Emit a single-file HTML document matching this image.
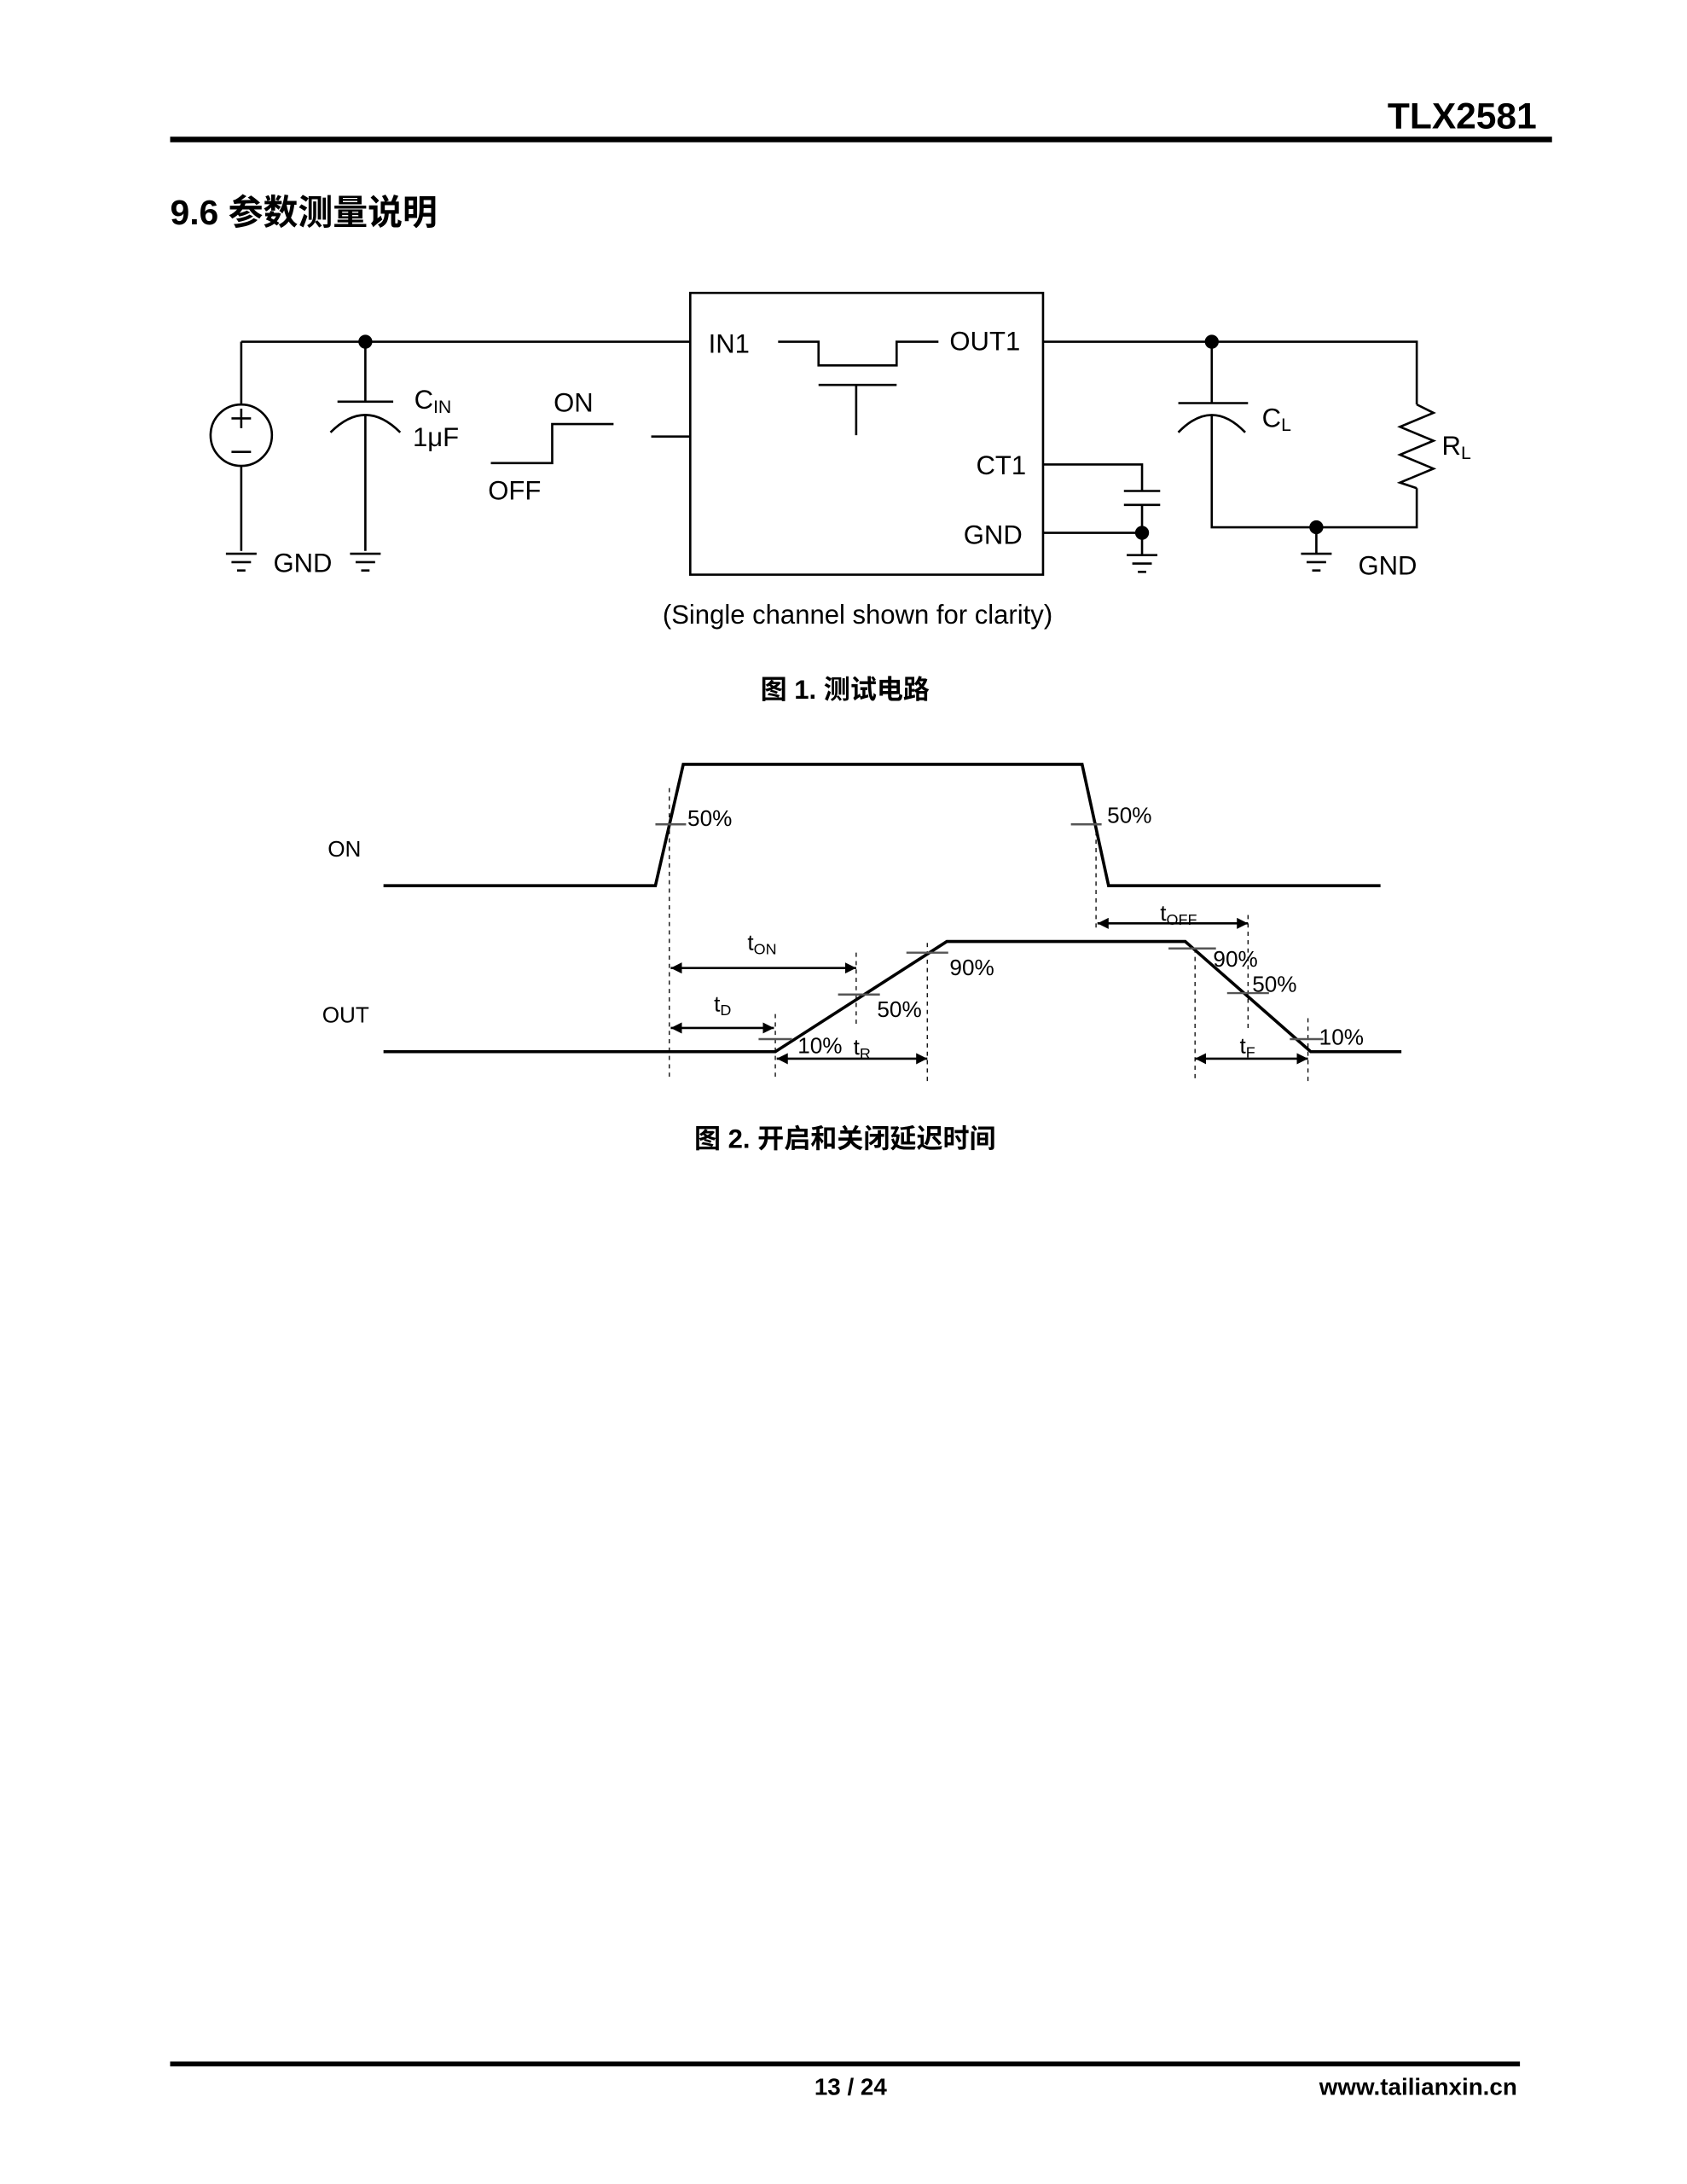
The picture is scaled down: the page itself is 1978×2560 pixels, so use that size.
<!DOCTYPE html>
<html><head><meta charset="utf-8"><style>
html,body{margin:0;padding:0;background:#fff;}
svg{display:block;}
text{font-family:"Liberation Sans","Noto Sans CJK SC",sans-serif;fill:#000;}
.b{font-weight:bold;}
</style></head><body>
<svg width="1978" height="2560" viewBox="0 0 1209.8 1565.8" xmlns="http://www.w3.org/2000/svg">
<defs>
<marker id="ah" viewBox="0 0 10 10" refX="10" refY="5" markerWidth="5" markerHeight="5" orient="auto-start-reverse"><path d="M0,0 L10,5 L0,10 z" fill="#000"/></marker>
</defs>
<text x="1102" y="92" font-size="26" class="b" text-anchor="end">TLX2581</text>
<rect x="122" y="98" width="991" height="4" fill="#000"/>
<text x="122" y="161" font-size="25" class="b">9.6 参数测量说明</text>

<g stroke="#000" stroke-width="1.6" fill="none">
<rect x="495" y="210" width="253" height="202"/>
<path d="M173,245 H495"/>
<path d="M173,245 V290 M173,334 V395"/>
<circle cx="173" cy="312" r="22"/>
<path d="M166,300 h14 M173,293 v14 M166,324 h14"/>
<path d="M162,397 h22 M166,403 h14 M170,409 h6"/>
<path d="M262,245 V288 M242,288 H282 M262,298 V395"/>
<path d="M237,310 Q262,285 287,310"/>
<path d="M251,397 h22 M255,403 h14 M259,409 h6"/>
<path d="M352,332 H396 V304 H440"/>
<path d="M467,313 H495"/>
<path d="M558,245 H587 V262 H643 V245 H673"/>
<path d="M587,276 H643 M614,276 V312"/>
<path d="M748,245 H1016 V290 M1016,350 V378 H869 V298 M869,245 V289"/>
<path d="M1016,290 l12,6 l-24,10 l24,10 l-24,10 l24,10 l-24,10 l12,4"/>
<path d="M845,289 H895"/>
<path d="M845,310 Q869,285 893,310"/>
<path d="M944,378 V397 M933,397 h22 M937,403 h14 M941,409 h6"/>
<path d="M748,333 H819 V352 M806,352 h26 M806,362 h26 M819,362 V398"/>
<path d="M748,382 H819"/>
<path d="M808,398 h22 M812,404 h14 M816,410 h6"/>
</g>
<circle cx="262" cy="245" r="5" fill="#000"/>
<circle cx="869" cy="245" r="5" fill="#000"/>
<circle cx="944" cy="378" r="5" fill="#000"/>
<circle cx="819" cy="382" r="5" fill="#000"/>
<g font-size="19">
<text x="196" y="410">GND</text>
<text x="297" y="293">C<tspan font-size="13" dy="3">IN</tspan></text>
<text x="296" y="320">1μF</text>
<text x="397" y="295">ON</text>
<text x="350" y="358">OFF</text>
<text x="508" y="253">IN1</text>
<text x="681" y="251">OUT1</text>
<text x="700" y="340">CT1</text>
<text x="691" y="390">GND</text>
<text x="905" y="306">C<tspan font-size="13" dy="3">L</tspan></text>
<text x="1034" y="326">R<tspan font-size="13" dy="3">L</tspan></text>
<text x="974" y="412">GND</text>
<text x="615" y="447" text-anchor="middle">(Single channel shown for clarity)</text>
</g>
<text x="606" y="501" font-size="19" class="b" text-anchor="middle">图 1. 测试电路</text>

<g stroke="#000" stroke-width="2.2" fill="none">
<path d="M275,635 H470 L490,548 H776 L795,635 H990"/>
<path d="M275,754 H556 L679,675 H850 L940,754 H1005"/>
</g>
<g stroke="#000" stroke-width="0.8" stroke-dasharray="3,3" fill="none">
<path d="M480,565 V775 M786,590 V668 M556,727 V775 M614,683 V735 M665,676 V775 M857,680 V775 M895,656 V740 M938,730 V775"/>
</g>
<g stroke="#555" stroke-width="1.5">
<path d="M470,591 h22 M768,591 h22 M650,683 h30 M601,713 h30 M544,745 h24 M838,680 h34 M880,712 h30 M925,745 h24"/>
</g>
<g stroke="#000" stroke-width="1.6" marker-start="url(#ah)" marker-end="url(#ah)">
<line x1="481" y1="694" x2="614" y2="694"/>
<line x1="481" y1="737" x2="555" y2="737"/>
<line x1="557" y1="759" x2="665" y2="759"/>
<line x1="787" y1="662" x2="895" y2="662"/>
<line x1="857" y1="759" x2="938" y2="759"/>
</g>
<g font-size="16">
<text x="235" y="614">ON</text>
<text x="231" y="733">OUT</text>
<text x="493" y="592">50%</text>
<text x="794" y="590">50%</text>
<text x="681" y="699">90%</text>
<text x="629" y="729">50%</text>
<text x="572" y="755">10%</text>
<text x="612" y="756">t<tspan font-size="11" dy="3">R</tspan></text>
<text x="870" y="693">90%</text>
<text x="898" y="711">50%</text>
<text x="946" y="749">10%</text>
<text x="536" y="681">t<tspan font-size="11" dy="3">ON</tspan></text>
<text x="512" y="725">t<tspan font-size="11" dy="3">D</tspan></text>
<text x="832" y="660">t<tspan font-size="11" dy="3">OFF</tspan></text>
<text x="889" y="755">t<tspan font-size="11" dy="3">F</tspan></text>
</g>
<text x="606" y="823" font-size="19" class="b" text-anchor="middle">图 2. 开启和关闭延迟时间</text>

<rect x="122" y="1478" width="968" height="3.5" fill="#000"/>
<text x="610" y="1502" font-size="17" class="b" text-anchor="middle">13 / 24</text>
<text x="1088" y="1502" font-size="17" class="b" text-anchor="end">www.tailianxin.cn</text>
</svg>
</body></html>
